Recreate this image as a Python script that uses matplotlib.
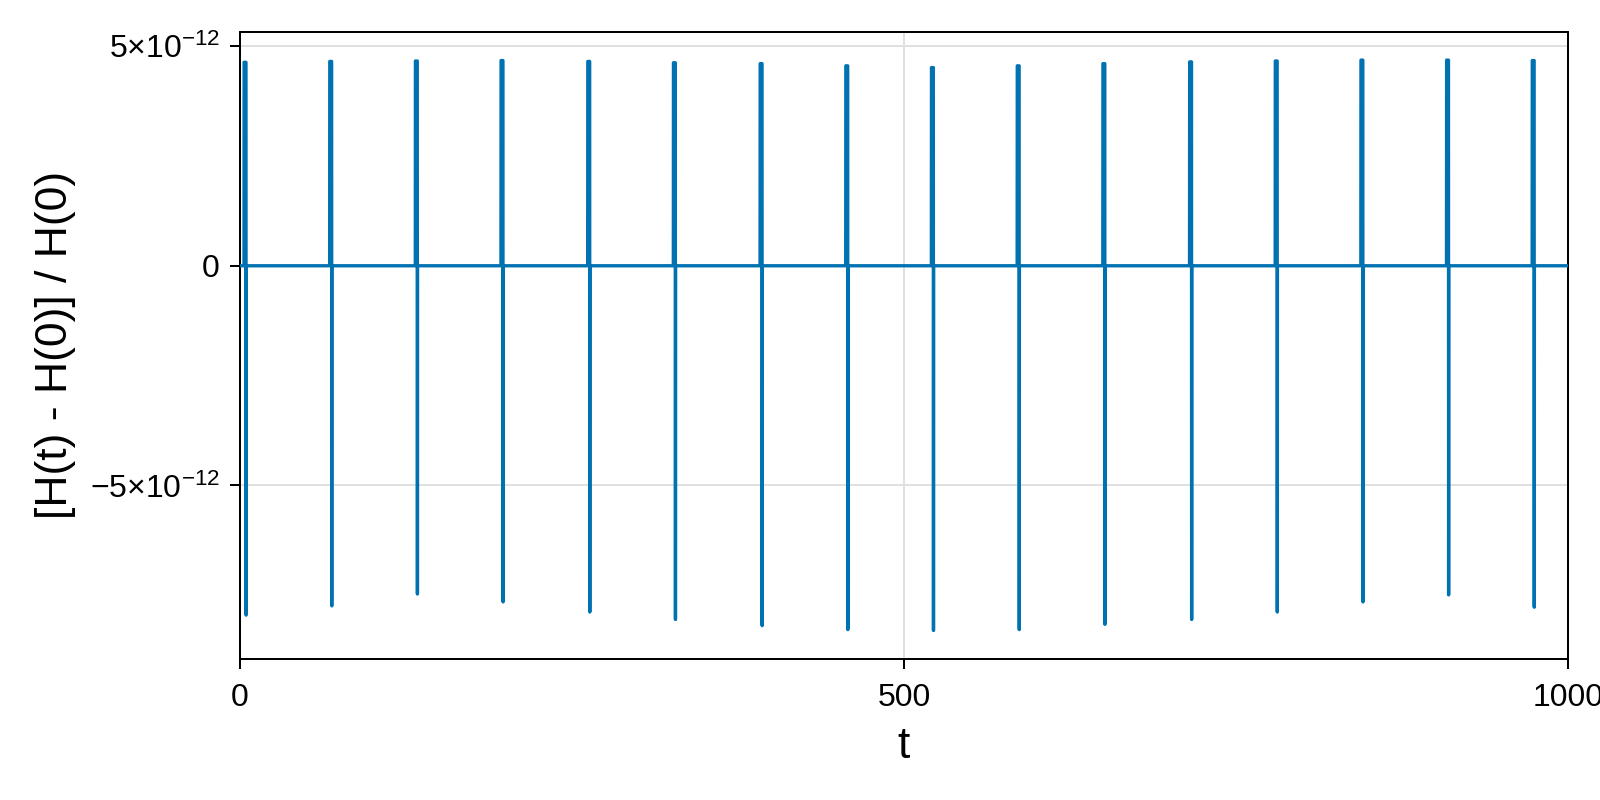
import matplotlib
matplotlib.use("Agg")
import matplotlib.pyplot as plt
import numpy as np

plt.rcParams["font.family"] = ["Liberation Sans", "DejaVu Sans"]
plt.rcParams["mathtext.fontset"] = "custom"
plt.rcParams["mathtext.rm"] = "Liberation Sans"
plt.rcParams["mathtext.it"] = "Liberation Sans:italic"
plt.rcParams["mathtext.bf"] = "Liberation Sans:bold"

BLUE = "#0072b2"
GRID = "#e0e0e0"

# times of the energy-error spikes (periapsis passages) and their extremes
spike_t = [3.1, 67.6, 132.1, 196.6, 261.9, 326.4, 391.7, 456.2,
           520.7, 585.3, 649.8, 715.1, 779.6, 844.1, 908.6, 973.1]
spike_peak = [4.63e-12, 4.65e-12, 4.66e-12, 4.67e-12, 4.65e-12, 4.62e-12, 4.60e-12, 4.55e-12,
              4.51e-12, 4.55e-12, 4.60e-12, 4.64e-12, 4.66e-12, 4.68e-12, 4.68e-12, 4.67e-12]
spike_trough = [-7.95e-12, -7.74e-12, -7.47e-12, -7.65e-12, -7.88e-12, -8.05e-12, -8.19e-12, -8.28e-12,
                -8.30e-12, -8.28e-12, -8.16e-12, -8.05e-12, -7.88e-12, -7.65e-12, -7.49e-12, -7.77e-12]
t_start, t_end = 0.0, 1000.0

# assemble the sampled series: flat between passages, up then down at each passage
t = [t_start]
h = [0.0]
for ts, hp, hm in zip(spike_t, spike_peak, spike_trough):
    t += [ts - 0.1, ts, ts + 1.4, ts + 1.5, ts + 1.6]
    h += [0.0, hp, hp, hm, 0.0]
t.append(t_end)
h.append(0.0)

fig = plt.figure(figsize=(16, 8), dpi=100)
ax = fig.add_axes([240 / 1600, 1 - 659 / 800, 1328 / 1600, 627.4 / 800])

ax.plot(t, h, color=BLUE, linewidth=2.4, solid_joinstyle="round", zorder=3)

ax.set_xlim(0, 1000)
ax.margins(y=0.05)
ax.set_xticks([0, 500, 1000])
ax.set_yticks([-5e-12, 0, 5e-12])
ax.set_yticklabels([r"$-5{\times}10^{-12}$", "0", r"$5{\times}10^{-12}$"])

for s in ax.spines.values():
    s.set_linewidth(1.44)
    s.set_color("black")

ax.tick_params(axis="both", which="both", direction="out", length=7.5, width=1.44,
               labelsize=23, top=False, right=False)
ax.tick_params(axis="x", pad=9.5)
ax.tick_params(axis="y", pad=7)

ax.set_axisbelow(True)
ax.grid(True, color=GRID, linewidth=1.44)

ax.set_xlabel("t", fontsize=32, labelpad=9.5)
ax.set_ylabel("[H(t) - H(0)] / H(0)", fontsize=32, labelpad=10)

fig.savefig("out.png", dpi=100)
